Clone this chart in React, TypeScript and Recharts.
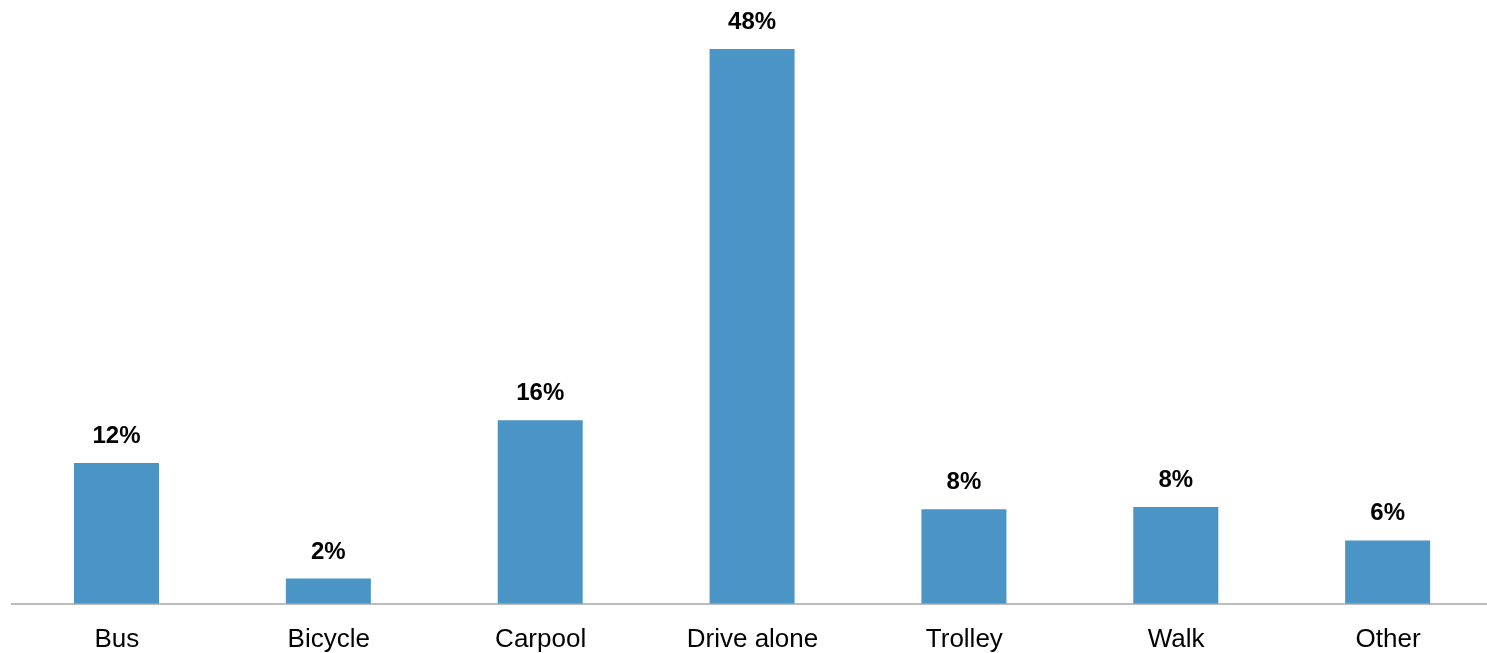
import { Bar, BarChart, LabelList, XAxis, YAxis } from "recharts";

const modes = ["Bus", "Bicycle", "Carpool", "Drive alone", "Trolley", "Walk", "Other"];
const shares = [12.2, 2.2, 15.9, 48, 8.2, 8.4, 5.5];

const chartData = modes.map((mode, i) => ({ mode, share: shares[i] }));

const font = "'Liberation Sans', Arial, sans-serif";

export default function App() {
  return (
    <div
      style={{
        position: "fixed",
        left: 8,
        top: 8,
        width: 1479,
        height: 645,
        overflow: "hidden",
      }}
    >
      <BarChart
        width={1486}
        height={645}
        data={chartData}
        margin={{ top: 18, right: 0, left: 3, bottom: 0 }}
        barSize={85}
        style={{ display: "block", fontFamily: font }}
      >
        <XAxis
          dataKey="mode"
          height={49}
          tickLine={false}
          tickSize={0}
          tickMargin={25}
          axisLine={{ stroke: "#a6a6a6", strokeWidth: 1.5 }}
          tick={{ fill: "#000", fontSize: 26, fontFamily: font }}
          interval={0}
        />
        <YAxis hide domain={[0, 50]} />
        <Bar dataKey="share" fill="#4a94c6" isAnimationActive={false}>
          <LabelList
            dataKey="share"
            position="top"
            offset={20}
            formatter={(v: number) => `${Math.round(v)}%`}
            style={{ fill: "#000", fontSize: 24, fontWeight: "bold", fontFamily: font }}
          />
        </Bar>
      </BarChart>
    </div>
  );
}
